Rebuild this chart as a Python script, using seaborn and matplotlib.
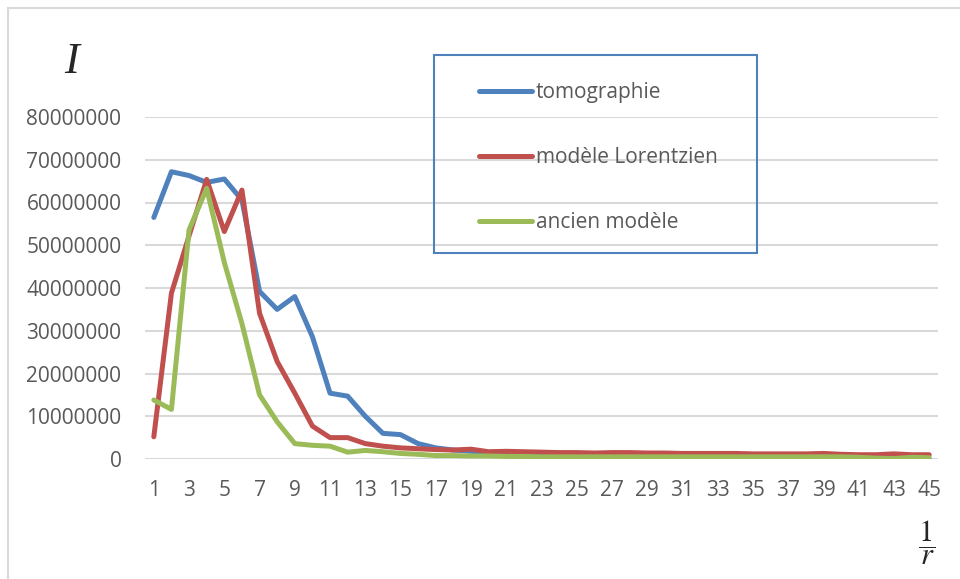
import numpy as np
import pandas as pd
import matplotlib
matplotlib.use('Agg')
import matplotlib.pyplot as plt
from matplotlib.patches import Rectangle
from matplotlib.ticker import StrMethodFormatter
import seaborn as sns

# values (intensity per category 1/r = 1..45)
r_inv = list(range(1, 46))

tomographie = [56.5, 67.2, 66.3, 64.7, 65.5, 60.6, 39.2, 35.0, 38.0, 28.6,
               15.4, 14.7, 10.0, 6.0, 5.7, 3.6, 2.6, 2.1, 1.8, 1.3,
               1.0, 0.8, 0.6, 0.5, 0.4, 0.35, 0.3, 0.3, 0.25, 0.2,
               0.2, 0.2, 0.15, 0.15, 0.15, 0.1, 0.1, 0.1, 0.1, 0.1,
               0.1, 0.1, 0.1, 0.1, 0.05]

lorentzien = [5.2, 38.8, 52.2, 65.4, 53.2, 62.9, 34.1, 22.8, 15.4, 7.7,
              5.0, 5.0, 3.6, 3.0, 2.6, 2.4, 2.2, 2.1, 2.3, 1.7,
              1.8, 1.7, 1.6, 1.5, 1.5, 1.4, 1.5, 1.5, 1.4, 1.4,
              1.3, 1.3, 1.3, 1.3, 1.2, 1.2, 1.2, 1.2, 1.3, 1.1,
              1.0, 1.0, 1.2, 1.0, 1.0]

ancien = [13.8, 11.6, 53.6, 63.3, 46.0, 31.7, 15.0, 8.7, 3.6, 3.2,
          3.0, 1.6, 2.0, 1.7, 1.3, 1.1, 0.8, 0.8, 0.7, 0.7,
          0.6, 0.6, 0.5, 0.5, 0.5, 0.5, 0.5, 0.5, 0.5, 0.5,
          0.5, 0.5, 0.5, 0.5, 0.5, 0.5, 0.5, 0.5, 0.5, 0.5,
          0.4, 0.2, 0.1, 0.4, 0.3]

series_names = ['tomographie', 'modèle Lorentzien', 'ancien modèle']
series_colors = ['#4F81BD', '#C0504D', '#9BBB59']

df = pd.DataFrame({
    'r': r_inv * 3,
    'I': np.array(tomographie + lorentzien + ancien) * 1e6,
    'serie': sum([[n] * len(r_inv) for n in series_names], []),
})

sns.set_style('white')
plt.rcParams['font.family'] = ['Open Sans', 'DejaVu Sans']
plt.rcParams['mathtext.fontset'] = 'stix'

fig = plt.figure(figsize=(9.6, 5.79), dpi=100)
ax = fig.add_axes([145 / 960, 1 - 459 / 579, (938 - 145) / 960, (459 - 117) / 579])

sns.lineplot(data=df, x='r', y='I', hue='serie', hue_order=series_names,
             palette=series_colors, linewidth=3.6, sort=False, ax=ax,
             solid_capstyle='round', solid_joinstyle='round')

ax.set_xlim(0.5, 45.5)
ax.set_ylim(0, 80e6)
ax.set_xticks(range(1, 46, 2))
ax.set_yticks(np.arange(0, 80e6 + 1, 10e6))
ax.yaxis.set_major_formatter(StrMethodFormatter('{x:.0f}'))
ax.grid(axis='y', color='#D9D9D9', linewidth=1.5)
ax.set_axisbelow(True)
for s in ax.spines.values():
    s.set_visible(False)
ax.tick_params(axis='both', length=0, labelsize=15, labelcolor='#595959')
ax.tick_params(axis='x', pad=15)
ax.tick_params(axis='y', pad=17)
ax.set_xlabel('')
ax.set_ylabel('')

# legend without frame + separate box, as in the reference
leg = ax.legend(loc='upper left', bbox_to_anchor=(469 / 960, 1 - 72 / 579),
                bbox_transform=fig.transFigure, frameon=False, fontsize=15,
                labelspacing=2.1, handlelength=2.5, handletextpad=0.2,
                borderpad=0)
for t in leg.get_texts():
    t.set_color('#595959')
for h in leg.get_lines():
    h.set_linewidth(3.6)
fig.patches.append(Rectangle((434 / 960, 1 - 253 / 579), (757 - 434) / 960,
                             (253 - 55) / 579, transform=fig.transFigure,
                             fill=False, edgecolor='#4F81BD', linewidth=1.5))

# outer chart border (light gray)
fig.patches.append(Rectangle((8 / 960, -0.05), 1.1, 1 - 8 / 579 + 0.05,
                             transform=fig.transFigure, fill=False,
                             edgecolor='#D9D9D9', linewidth=1.5))

# axis labels placed like the reference
fig.text(72 / 960, 1 - 62 / 579, 'I', family='Liberation Serif', style='italic',
         fontsize=32, ha='center', va='center')
fig.text(927 / 960, 1 - 543 / 579, r'$\dfrac{1}{r}$', fontsize=22,
         ha='center', va='center')

fig.savefig('out.png', dpi=100)
